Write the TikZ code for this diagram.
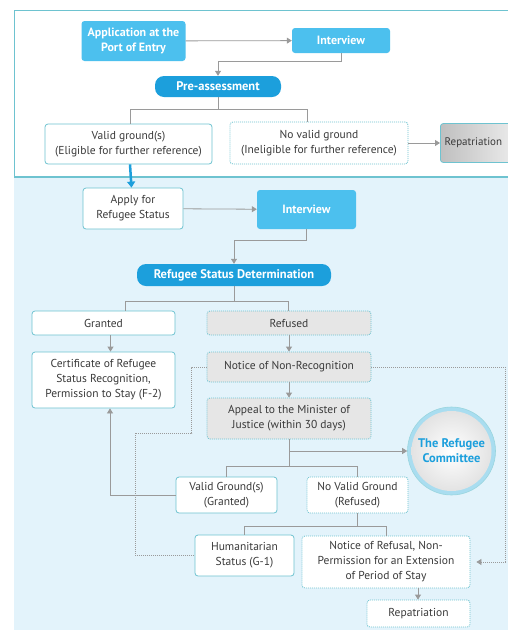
\documentclass[tikz,border=0pt]{standalone}
\usepackage{fontspec}
\setmainfont{PT Sans}
\usepackage{xcolor}
\usetikzlibrary{arrows.meta,positioning}

\definecolor{skyfill}{HTML}{4CC0EE}
\definecolor{deepfill}{HTML}{1C9FDC}
\definecolor{paleback}{HTML}{E3F3FB}
\definecolor{tealline}{HTML}{6EC3D0}
\definecolor{ringblue}{HTML}{A9DDF0}
\definecolor{linkgrey}{HTML}{9A9A9A}
\definecolor{boxgrey}{HTML}{E6E6E6}
\definecolor{inkgrey}{HTML}{3A3A3A}

\begin{document}
\begin{tikzpicture}[x=1pt, y=-1pt,
  font=\fontsize{11.5}{15}\selectfont,
  box/.style={draw=tealline, fill=white, text=inkgrey, rounded corners=3pt, align=center, inner sep=2pt, line width=0.8pt},
  dotbox/.style={box, dash pattern=on 1pt off 1pt},
  greybox/.style={dotbox, fill=boxgrey},
  skybox/.style={fill=skyfill, text=white, rounded corners=3pt, align=center, inner sep=2pt, font=\fontsize{12}{14.5}\selectfont\bfseries},
  pill/.style={fill=deepfill, text=white, rounded corners=9pt, align=center, inner sep=2pt, font=\fontsize{12.5}{14}\selectfont\bfseries},
  flow/.style={draw=linkgrey, line width=0.8pt, -{Triangle[length=5pt, width=6pt]}},
  link/.style={draw=linkgrey, line width=0.8pt},
  dotlink/.style={link, dash pattern=on 1pt off 1pt}
]
\clip (0,0) rectangle (508,630);
\fill[white] (0,0) rectangle (508,630);
\draw[tealline, fill=white, line width=1pt] (14,10) rectangle (540,177);
\fill[paleback] (14,177) rectangle (540,650);
\draw[tealline, line width=1.5pt] (14,177) -- (540,177);

\node[skybox, minimum width=104pt, minimum height=40pt] (app) at (133.5,41) {Application at the\\Port of Entry};
\node[skybox, minimum width=98pt, minimum height=25pt] (int1) at (341,40.5) {Interview};
\node[pill, minimum width=126pt, minimum height=21pt] (pre) at (218,86.5) {Pre-assessment};
\node[box, minimum width=167pt, minimum height=40pt] (valid) at (128.5,144) {Valid ground(s)\\(Eligible for further reference)};
\node[dotbox, minimum width=178pt, minimum height=42pt] (novalid) at (319,143) {No valid ground\\(Ineligible for further reference)};
\node[box, left color=gray!50, right color=gray!8, minimum width=90pt, minimum height=39pt, anchor=west, inner sep=2pt, font=\fontsize{11}{13}\selectfont] (rep1) at (440,143) {Repatriation\hspace*{24pt}};

\node[box, minimum width=100pt, minimum height=41pt] (apply) at (133,208.5) {Apply for\\Refugee Status};
\node[skybox, minimum width=99pt, minimum height=39pt] (int2) at (306.5,209.5) {Interview};
\node[pill, minimum width=194pt, minimum height=22pt] (rsd) at (234,275) {Refugee Status Determination};
\node[box, minimum width=143pt, minimum height=24pt] (grant) at (103.5,323) {Granted};
\node[greybox, minimum width=164pt, minimum height=24pt] (refused) at (289,323) {Refused};
\node[box, minimum width=143pt, minimum height=56pt] (cert) at (103.5,380) {Certificate of Refugee\\Status Recognition,\\Permission to Stay (F-2)};
\node[greybox, minimum width=164pt, minimum height=30pt] (nnr) at (289,367) {Notice of Non-Recognition};
\node[greybox, minimum width=164pt, minimum height=41pt] (appeal) at (289,418.5) {Appeal to the Minister of\\Justice (within 30 days)};
\node[circle, draw=tealline!70, fill=ringblue, line width=0.6pt, minimum size=88pt] (comm) at (451.5,451) {};
\node[circle, inner color=white, outer color=gray!22, minimum size=80pt, align=center, text=deepfill, font=\fontsize{12.5}{15}\selectfont\bfseries] (commtext) at (comm.center) {The Refugee\\Committee};
\node[box, minimum width=101pt, minimum height=36pt] (valid2) at (226.5,495) {Valid Ground(s)\\(Granted)};
\node[dotbox, minimum width=101pt, minimum height=36pt] (novalid2) at (357.5,495) {No Valid Ground\\(Refused)};
\node[box, minimum width=99pt, minimum height=41pt] (hum) at (244.5,555.5) {Humanitarian\\Status (G-1)};
\node[dotbox, minimum width=168pt, minimum height=52pt] (nref) at (386,562) {Notice of Refusal, Non-\\Permission for an Extension\\of Period of Stay};
\node[dotbox, minimum width=103pt, minimum height=27pt] (rep2) at (418.5,613.5) {Repatriation};

\draw[flow] (app) -- (int1);
\draw[flow] (int1.south) -- ++(0,8) -| (pre.north);
\draw[link] (pre.south) -- ++(0,13);
\draw[link] ([xshift=1.5pt]valid.north) -- ++(0,-14) -| ([xshift=-12pt]novalid.north);
\draw[flow] (novalid) -- (rep1);
\draw[draw=deepfill, line width=2.5pt, -{Triangle[length=6pt, width=8pt]}] ([xshift=1.5pt]valid.south) -- ([xshift=-1.5pt]apply.north);

\draw[flow] (apply) -- (int2);
\draw[flow] (int2.south) -- ++(0,11) -| (rsd.north);
\draw[link] (rsd.south) -- ++(0,16);
\draw[link] ([xshift=21.5pt]grant.north) -- ++(0,-9) -| ([xshift=-1pt]refused.north);
\draw[flow] ([xshift=7pt]grant.south) -- ([xshift=7pt]cert.north);
\draw[flow] (refused) -- (nnr);
\draw[flow] (nnr) -- (appeal);
\draw[link] (appeal.south) -- ++(0,28);
\draw[flow] (appeal.south |- comm.west) -- (comm.west);
\draw[link] (valid2.north) -- ++(0,-10) -| (novalid2.north);
\draw[flow] (valid2.west) -| ([xshift=6.5pt]cert.south);
\draw[link] (novalid2.south) -- ++(0,14);
\draw[link] (hum.north) -- ++(0,-8) -| (nref.north);
\draw[flow] ([xshift=32pt]nref.south) -- ([xshift=-0.5pt]rep2.north);
\draw[dotlink] (nnr.west) -- ++(-15,0) |- (135,433) |- (hum.west);
\draw[dotlink, -{Triangle[length=5pt, width=6pt]}] (nnr.east) -- (505,367) |- ([xshift=6pt]nref.east);
\end{tikzpicture}
\end{document}
